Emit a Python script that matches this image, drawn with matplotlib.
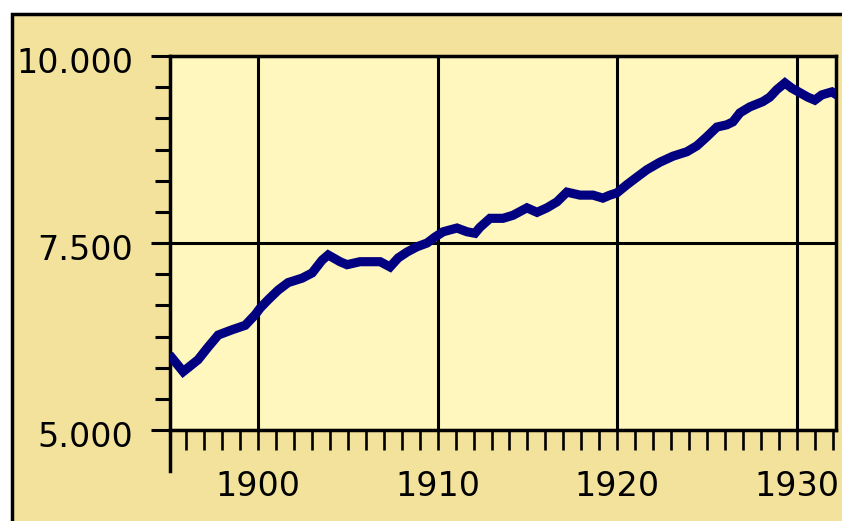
import matplotlib
matplotlib.use("Agg")
from matplotlib import pyplot as plt
from matplotlib.patches import Rectangle
from matplotlib.ticker import MultipleLocator, FixedLocator
from matplotlib.transforms import ScaledTranslation

# values (year, value)
years = [1895.25, 1895.86, 1896.69, 1897.25, 1897.81, 1898.58, 1899.31, 1899.86,
         1900.14, 1900.58, 1901.14, 1901.69, 1902.47, 1903.03, 1903.58, 1903.92,
         1904.58, 1904.97, 1905.69, 1906.81, 1907.36, 1907.81, 1908.31, 1908.86,
         1909.42, 1909.86, 1910.31, 1911.08, 1911.64, 1912.08, 1912.36, 1912.92,
         1913.64, 1914.19, 1914.97, 1915.53, 1916.08, 1916.64, 1917.19, 1917.92,
         1918.64, 1919.19, 1919.58, 1919.97, 1920.53, 1921.08, 1921.64, 1922.36,
         1923.08, 1923.86, 1924.42, 1924.97, 1925.53, 1926.08, 1926.42, 1926.81,
         1927.36, 1928.08, 1928.47, 1928.86, 1929.31, 1929.69, 1930.14, 1930.58,
         1930.97, 1931.36, 1931.92, 1932.19]
values = [5.96, 5.78, 5.94, 6.11, 6.27, 6.34, 6.40, 6.54,
          6.63, 6.74, 6.87, 6.97, 7.03, 7.10, 7.27, 7.34,
          7.25, 7.21, 7.25, 7.25, 7.18, 7.30, 7.38, 7.45,
          7.50, 7.58, 7.65, 7.70, 7.65, 7.63, 7.71, 7.83,
          7.83, 7.87, 7.97, 7.91, 7.97, 8.05, 8.18, 8.14,
          8.14, 8.10, 8.14, 8.17, 8.28, 8.38, 8.48, 8.58,
          8.66, 8.72, 8.80, 8.92, 9.05, 9.08, 9.12, 9.24,
          9.32, 9.39, 9.45, 9.55, 9.64, 9.57, 9.51, 9.45,
          9.41, 9.48, 9.52, 9.48]

x_major = [1900, 1910, 1920, 1930]
y_major = [5.0, 7.5, 10.0]
y_labels = ["5.000", "7.500", "10.000"]

outer_bg = "#F3E29B"
plot_bg = "#FFF7BD"
line_col = "#000080"

fig = plt.figure(figsize=(8.42, 5.21), dpi=100)
fig.patch.set_facecolor("white")
fig.patches.append(Rectangle((12 / 842, -0.1), 1.1, 1.1 - 14 / 521,
                             transform=fig.transFigure, facecolor=outer_bg,
                             edgecolor="black", linewidth=2.5, zorder=-5))

ax = fig.add_axes([169.5 / 842, 1 - 430 / 521, (836 - 169.5) / 842, (430 - 56) / 521])
ax.set_zorder(1)
ax.set_facecolor(plot_bg)

ax.plot(years, values, color=line_col, linewidth=6.6, solid_joinstyle="miter", zorder=3)

ax.set_xlim(1895.1, 1932.15)
ax.set_ylim(5.0, 10.0)

ax.xaxis.set_major_locator(FixedLocator(x_major))
ax.xaxis.set_minor_locator(MultipleLocator(1))
ax.set_xticklabels([str(y) for y in x_major])
ax.yaxis.set_major_locator(FixedLocator(y_major))
ax.yaxis.set_minor_locator(MultipleLocator(2.5 / 6))
ax.set_yticklabels(y_labels)

ax.grid(True, which="major", color="black", linewidth=2.2)
ax.set_axisbelow(False)

for s in ax.spines.values():
    s.set_color("black")
    s.set_linewidth(2.5)

ax.tick_params(axis="x", which="both", direction="out", length=14.5, width=1.9,
               pad=14, labelsize=24, colors="black")
ax.tick_params(axis="y", which="major", direction="out", length=14, width=2.2,
               pad=12, labelsize=24, colors="black")
ax.tick_params(axis="y", which="minor", direction="out", length=10.5, width=2.2)

# y labels sit a little below their ticks in the reference
shift = ScaledTranslation(0, -4 / 100, fig.dpi_scale_trans)
for lab in ax.get_yticklabels():
    lab.set_transform(lab.get_transform() + shift)

# left axis line runs on below the x axis
ax.plot([0, 0], [0, -0.11], transform=ax.transAxes, color="black",
        linewidth=2.5, clip_on=False)

plt.savefig("out.png", dpi=100, facecolor=fig.get_facecolor())
